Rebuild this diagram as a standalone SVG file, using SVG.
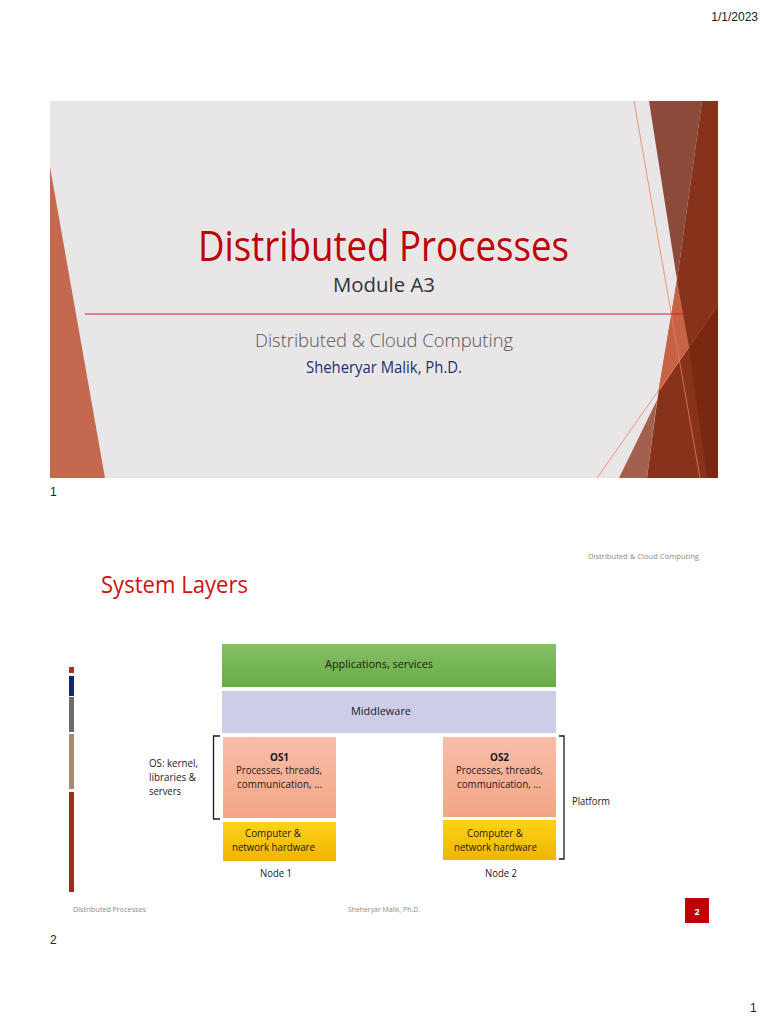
<svg xmlns="http://www.w3.org/2000/svg" width="768" height="1024" viewBox="0 0 768 1024">
<style>
.t{font-family:"Open Sans","Noto Sans","Liberation Sans",sans-serif}
.pg{font-family:"Liberation Sans",Arial,sans-serif;font-size:12px;fill:#222}
.lbl{font-family:"Open Sans","Noto Sans","Liberation Sans",sans-serif;font-size:10px;fill:#1a1a1a}
.ft{font-family:"Open Sans","Noto Sans","Liberation Sans",sans-serif;font-size:7px;fill:#8a8a8a}
.br{fill:none;stroke:#1a1a1a;stroke-width:1.3}
.thin{stroke:#ef7d5e;stroke-width:0.8;fill:none}
</style>
<defs>
<linearGradient id="gGreen" x1="0" y1="0" x2="0" y2="1"><stop offset="0" stop-color="#84c066"/><stop offset="1" stop-color="#69ab44"/></linearGradient>
<linearGradient id="gSalmon" x1="0" y1="0" x2="0" y2="1"><stop offset="0" stop-color="#f7bea8"/><stop offset="1" stop-color="#f4a586"/></linearGradient>
<linearGradient id="gGold" x1="0" y1="0" x2="0" y2="1"><stop offset="0" stop-color="#ffd21a"/><stop offset="1" stop-color="#efb500"/></linearGradient>
</defs>
<rect width="768" height="1024" fill="#ffffff"/>
<text class="pg" x="758" y="21" text-anchor="end">1/1/2023</text>

<g id="slide1">
<rect x="50" y="101" width="668" height="377" fill="#e8e6e7"/>
<polygon points="50,167 105,478 50,478" fill="#c4684f"/>
<polygon points="702,101 718,101 718,478 647,478 657,402 677,280" fill="#87321a"/>
<polygon points="649,101 702,101 677,280" fill="#8c4a3b"/>
<polygon points="677,280 689,347 658,393" fill="#c9664a" opacity="0.95"/>
<polygon points="657,400 647,478 619,478" fill="#a2604f"/>
<polygon points="718,305 689,347 707,478 718,478" fill="#7b2810"/>
<line class="thin" x1="634" y1="101" x2="700" y2="478"/>
<line class="thin" x1="597" y1="478" x2="689" y2="347"/>
<line x1="689" y1="347" x2="718" y2="305" stroke="#a8452a" stroke-width="0.8"/>
<line x1="85" y1="314" x2="684" y2="314" stroke="#d42020" stroke-width="1.2"/>
<text class="t" x="198" y="261" font-size="42" fill="#c00000" textLength="371" lengthAdjust="spacingAndGlyphs">Distributed Processes</text>
<text class="t" x="333" y="292" font-size="20" fill="#333333" textLength="102" lengthAdjust="spacingAndGlyphs">Module A3</text>
<text class="t" x="255" y="347" font-size="19" font-weight="300" fill="#555555" textLength="258" lengthAdjust="spacingAndGlyphs">Distributed &amp; Cloud Computing</text>
<text class="t" x="306" y="373" font-size="15.5" fill="#1f3070" textLength="156" lengthAdjust="spacingAndGlyphs">Sheheryar Malik, Ph.D.</text>
</g>
<text class="pg" x="50" y="496">1</text>

<g id="slide2">
<text class="ft" x="699" y="559" text-anchor="end" textLength="111" lengthAdjust="spacingAndGlyphs">Distributed &amp; Cloud Computing</text>
<text class="t" x="101" y="593" font-size="24" fill="#d01010" textLength="147" lengthAdjust="spacingAndGlyphs">System Layers</text>
<rect x="69" y="667" width="5" height="6" fill="#a93226"/>
<rect x="69" y="676" width="5" height="20" fill="#10296b"/>
<rect x="69" y="697" width="5" height="35" fill="#6b6b6b"/>
<rect x="69" y="734" width="5" height="55" fill="#a38b70"/>
<rect x="69" y="792" width="5" height="100" fill="#a3281e"/>
</g>

<g id="apps">
<rect x="222" y="644" width="334" height="43" fill="url(#gGreen)"/>
<text class="lbl" x="325" y="668" textLength="108" lengthAdjust="spacingAndGlyphs">Applications, services</text>
</g>
<g id="middleware">
<rect x="222" y="691" width="334" height="42" fill="#cdcde7"/>
<text class="lbl" x="351" y="715" textLength="60" lengthAdjust="spacingAndGlyphs">Middleware</text>
</g>
<g id="os1">
<rect x="223" y="737" width="113" height="81" fill="url(#gSalmon)"/>
<text class="lbl" x="270" y="761" font-weight="bold" textLength="19" lengthAdjust="spacingAndGlyphs">OS1</text>
<text class="lbl" x="236" y="774" textLength="86" lengthAdjust="spacingAndGlyphs">Processes, threads,</text>
<text class="lbl" x="237" y="788" textLength="85" lengthAdjust="spacingAndGlyphs">communication, ...</text>
</g>
<g id="hw1">
<rect x="223" y="822" width="113" height="39" fill="url(#gGold)"/>
<text class="lbl" x="245" y="837" textLength="56" lengthAdjust="spacingAndGlyphs">Computer &amp;</text>
<text class="lbl" x="232" y="851" textLength="83" lengthAdjust="spacingAndGlyphs">network hardware</text>
</g>
<g id="os2">
<rect x="443" y="737" width="113" height="80" fill="url(#gSalmon)"/>
<text class="lbl" x="490" y="761" font-weight="bold" textLength="19" lengthAdjust="spacingAndGlyphs">OS2</text>
<text class="lbl" x="456" y="774" textLength="87" lengthAdjust="spacingAndGlyphs">Processes, threads,</text>
<text class="lbl" x="457" y="788" textLength="84" lengthAdjust="spacingAndGlyphs">communication, ...</text>
</g>
<g id="hw2">
<rect x="443" y="820" width="113" height="40" fill="url(#gGold)"/>
<text class="lbl" x="467" y="837" textLength="56" lengthAdjust="spacingAndGlyphs">Computer &amp;</text>
<text class="lbl" x="454" y="851" textLength="83" lengthAdjust="spacingAndGlyphs">network hardware</text>
</g>
<g id="labels">
<text class="lbl" x="260" y="877" textLength="32" lengthAdjust="spacingAndGlyphs">Node 1</text>
<text class="lbl" x="485" y="877" textLength="32" lengthAdjust="spacingAndGlyphs">Node 2</text>
<text class="lbl" x="149" y="767" textLength="49" lengthAdjust="spacingAndGlyphs">OS: kernel,</text>
<text class="lbl" x="149" y="781" textLength="47" lengthAdjust="spacingAndGlyphs">libraries &amp;</text>
<text class="lbl" x="149" y="795" textLength="32" lengthAdjust="spacingAndGlyphs">servers</text>
<text class="lbl" x="572" y="805" textLength="38" lengthAdjust="spacingAndGlyphs">Platform</text>
</g>
<g id="connectors">
<polyline class="br" points="220,736 213.5,736 213.5,819 220,819"/>
<polyline class="br" points="559,736 564,736 564,859 559,859"/>
</g>

<g id="footer2">
<text class="ft" x="73" y="912" textLength="73" lengthAdjust="spacingAndGlyphs">Distributed Processes</text>
<text class="ft" x="348" y="912" textLength="72" lengthAdjust="spacingAndGlyphs">Sheheryar Malik, Ph.D.</text>
<rect x="685" y="898" width="24" height="25" fill="#c00000"/>
<text x="697" y="914.5" text-anchor="middle" font-family="'Open Sans','Liberation Sans',sans-serif" font-size="9" font-weight="bold" fill="#ffffff">2</text>
</g>
<text class="pg" x="50" y="944">2</text>
<text class="pg" x="750" y="1012">1</text>
</svg>
